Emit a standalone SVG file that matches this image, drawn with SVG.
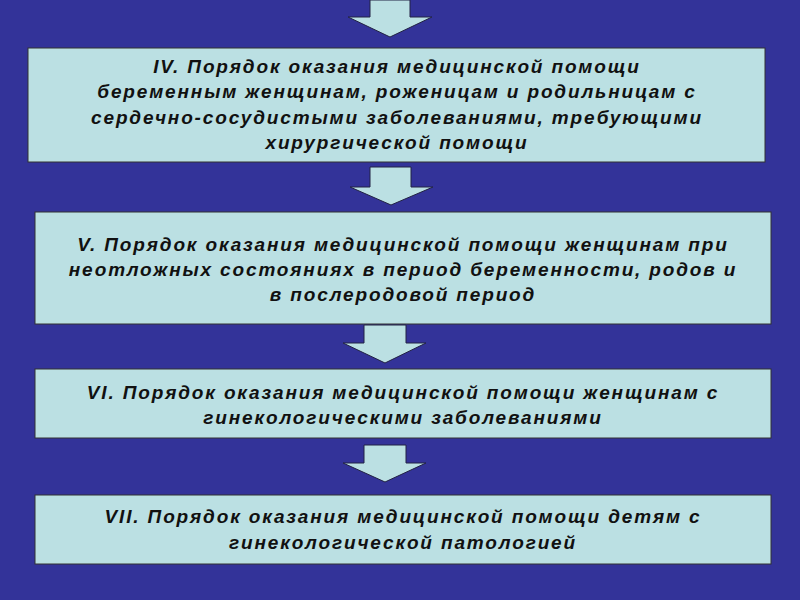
<svg xmlns="http://www.w3.org/2000/svg" width="800" height="600" viewBox="0 0 800 600">
<style>
.box{fill:#bbe0e3;stroke:#333333;stroke-width:1}
.arr{fill:#bbe0e3;stroke:#222244;stroke-width:1}
.t{font-family:"Liberation Sans",Arial,sans-serif;font-size:19px;font-weight:bold;font-style:italic;fill:#111;text-anchor:middle;letter-spacing:1.85px}
</style>
<rect width="800" height="600" fill="#333399"/>
<g id="connectors">
<polygon class="arr" points="370,0 410,0 410,17 432,17 390,37 348,17 370,17"/>
<polygon class="arr" points="370,167 411,167 411,187 433,187 391,205 350,187 370,187"/>
<polygon class="arr" points="364,325 406,325 406,343 426,343 385,363 343,343 364,343"/>
<polygon class="arr" points="364,445 406,445 406,463 426,463 385,482 343,463 364,463"/>
</g>
<g id="node-iv">
<rect class="box" x="28" y="48" width="737" height="114"/>
<text class="t" x="397" y="73">IV. Порядок оказания медицинской помощи</text>
<text class="t" x="397" y="98">беременным женщинам, роженицам и родильницам с</text>
<text class="t" x="397" y="124">сердечно-сосудистыми заболеваниями, требующими</text>
<text class="t" x="397" y="149">хирургической помощи</text>
</g>
<g id="node-v">
<rect class="box" x="35" y="212" width="736" height="112"/>
<text class="t" x="403" y="251">V. Порядок оказания медицинской помощи женщинам при</text>
<text class="t" x="403" y="276">неотложных состояниях в период беременности, родов и</text>
<text class="t" x="403" y="301">в послеродовой период</text>
</g>
<g id="node-vi">
<rect class="box" x="35" y="369" width="736" height="69"/>
<text class="t" x="403" y="399">VI. Порядок оказания медицинской помощи женщинам с</text>
<text class="t" x="403" y="424">гинекологическими заболеваниями</text>
</g>
<g id="node-vii">
<rect class="box" x="35" y="495" width="736" height="69"/>
<text class="t" x="403" y="523">VII. Порядок оказания медицинской помощи детям с</text>
<text class="t" x="403" y="549">гинекологической патологией</text>
</g>
</svg>
